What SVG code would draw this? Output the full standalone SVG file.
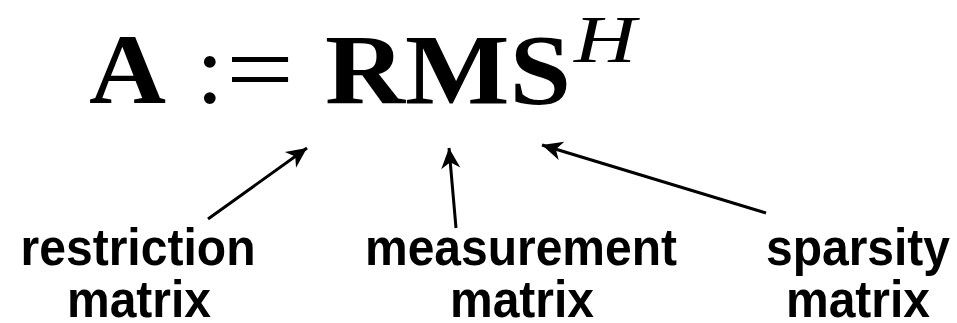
<svg xmlns="http://www.w3.org/2000/svg" width="957" height="323" viewBox="0 0 957 323">
<style>
.math{font-family:"Liberation Serif","Times New Roman",serif;font-weight:bold;fill:#000}
.rel{font-family:"Liberation Serif","Times New Roman",serif;font-weight:normal;fill:#000}
.it{font-family:"Liberation Serif","Times New Roman",serif;font-style:italic;fill:#000}
.lbl{font-family:"Liberation Sans",Arial,sans-serif;font-weight:bold;font-size:52px;fill:#000;text-anchor:middle}
.conn{stroke:#000;stroke-width:3;fill:none;marker-end:url(#ah)}
</style>
<defs>
<marker id="ah" markerUnits="userSpaceOnUse" markerWidth="24" markerHeight="24" viewBox="-18 -9 20 18" refX="0" refY="0" orient="auto">
<path d="M0,0 L-17,-8 L-12,0 L-17,8 Z" fill="#000"/>
</marker>
</defs>
<g id="formula">
<text class="math" x="89" y="103" font-size="100" textLength="77" lengthAdjust="spacingAndGlyphs">A</text>
<text class="rel" x="196" y="103" font-size="100">:</text>
<text class="rel" x="226" y="103" font-size="100" textLength="68" lengthAdjust="spacingAndGlyphs">=</text>
<text class="math" x="325" y="103" font-size="100" textLength="246" lengthAdjust="spacingAndGlyphs">RMS</text>
<text class="it" x="574" y="62" font-size="68" textLength="62" lengthAdjust="spacingAndGlyphs">H</text>
</g>
<g id="restriction">
<text class="lbl" x="138" y="265" textLength="235" lengthAdjust="spacingAndGlyphs">restriction</text>
<text class="lbl" x="139" y="317" textLength="144" lengthAdjust="spacingAndGlyphs">matrix</text>
</g>
<g id="measurement">
<text class="lbl" x="521" y="265" textLength="312" lengthAdjust="spacingAndGlyphs">measurement</text>
<text class="lbl" x="522" y="317" textLength="144" lengthAdjust="spacingAndGlyphs">matrix</text>
</g>
<g id="sparsity">
<text class="lbl" x="858" y="265" textLength="184" lengthAdjust="spacingAndGlyphs">sparsity</text>
<text class="lbl" x="858" y="317" textLength="144" lengthAdjust="spacingAndGlyphs">matrix</text>
</g>
<g id="connectors">
<line class="conn" x1="208" y1="219" x2="307" y2="148"/>
<line class="conn" x1="456" y1="228" x2="449" y2="148"/>
<line class="conn" x1="766" y1="213" x2="542" y2="145"/>
</g>
</svg>
